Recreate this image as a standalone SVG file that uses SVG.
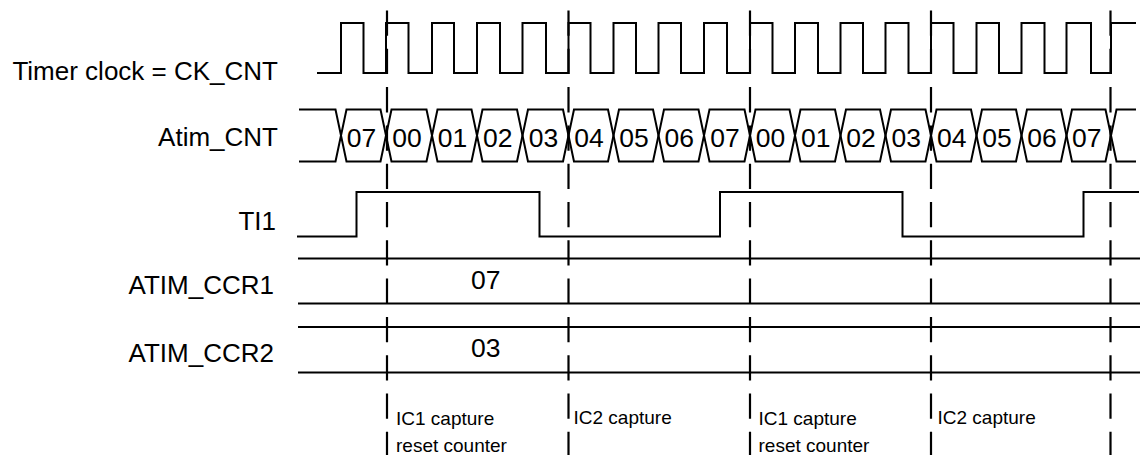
<svg xmlns="http://www.w3.org/2000/svg" width="1142" height="455" viewBox="0 0 1142 455">
<style>
.sig{fill:none;stroke:#000;stroke-width:2;stroke-linejoin:miter}
.dash{fill:none;stroke:#000;stroke-width:2.2;stroke-dasharray:25.3 13}
.lbl{font-family:"Liberation Sans",Arial,sans-serif;font-size:26px;fill:#000;text-anchor:end}
.val{font-family:"Liberation Sans",Arial,sans-serif;font-size:26.5px;fill:#000;text-anchor:middle}
.note{font-family:"Liberation Sans",Arial,sans-serif;font-size:19px;fill:#000}
</style>
<rect width="1142" height="455" fill="#fff"/>
<g id="labels">
<text class="lbl" x="278" y="80">Timer clock = CK_CNT</text>
<text class="lbl" x="278" y="146">Atim_CNT</text>
<text class="lbl" x="276" y="230">TI1</text>
<text class="lbl" x="274" y="293.5">ATIM_CCR1</text>
<text class="lbl" x="274" y="362">ATIM_CCR2</text>
</g>
<g id="clock">
<path class="sig" d="M317,73 H341 V23 H363.5 V73 H386 V23 H408.5 V73 H432 V23 H454 V73 H477 V23 H500 V73 H522.5 V23 H546 V73 H568.5 V23 H590.5 V73 H613.5 V23 H636 V73 H658.5 V23 H681 V73 H704 V23 H727 V73 H750 V23 H772.5 V73 H795 V23 H818 V73 H840.5 V23 H863 V73 H885.5 V23 H908.5 V73 H931 V23 H953.5 V73 H976.5 V23 H999 V73 H1021.5 V23 H1044.5 V73 H1066.5 V23 H1091 V73 H1111 V23 H1136"/>
</g>
<g id="counter">
<path class="sig" d="M299,109.5 H335.5 L346.5,161.5 H380.5 L391.5,109.5 H426.5 L437.5,161.5 H471.5 L482.5,109.5 H517 L528,161.5 H563 L574,109.5 H608 L619,161.5 H653 L664,109.5 H698.5 L709.5,161.5 H744.5 L755.5,109.5 H789.5 L800.5,161.5 H835 L846,109.5 H880 L891,161.5 H925.5 L936.5,109.5 H971 L982,161.5 H1016 L1027,109.5 H1061 L1072,161.5 H1105.5 L1116.5,109.5 H1136"/>
<path class="sig" d="M299,161.5 H335.5 L346.5,109.5 H380.5 L391.5,161.5 H426.5 L437.5,109.5 H471.5 L482.5,161.5 H517 L528,109.5 H563 L574,161.5 H608 L619,109.5 H653 L664,161.5 H698.5 L709.5,109.5 H744.5 L755.5,161.5 H789.5 L800.5,109.5 H835 L846,161.5 H880 L891,109.5 H925.5 L936.5,161.5 H971 L982,109.5 H1016 L1027,161.5 H1061 L1072,109.5 H1105.5 L1116.5,161.5 H1136"/>
<text class="val" x="361.5" y="146.5">07</text>
<text class="val" x="407" y="146.5">00</text>
<text class="val" x="452.5" y="146.5">01</text>
<text class="val" x="497.7" y="146.5">02</text>
<text class="val" x="543.5" y="146.5">03</text>
<text class="val" x="589" y="146.5">04</text>
<text class="val" x="634" y="146.5">05</text>
<text class="val" x="679.2" y="146.5">06</text>
<text class="val" x="725" y="146.5">07</text>
<text class="val" x="770.5" y="146.5">00</text>
<text class="val" x="815.7" y="146.5">01</text>
<text class="val" x="861" y="146.5">02</text>
<text class="val" x="906.2" y="146.5">03</text>
<text class="val" x="951.7" y="146.5">04</text>
<text class="val" x="997" y="146.5">05</text>
<text class="val" x="1042" y="146.5">06</text>
<text class="val" x="1086.7" y="146.5">07</text>
</g>
<g id="ti1">
<path class="sig" d="M297,236.5 H356.5 V192 H539.5 V236.5 H720 V192 H902.5 V236.5 H1083.5 V192 H1139"/>
</g>
<g id="ccr1">
<path class="sig" d="M298,258.5 H1140 M298,303.5 H1140"/>
<text class="val" x="485.7" y="288.5">07</text>
</g>
<g id="ccr2">
<path class="sig" d="M298,327 H1140 M298,372.5 H1140"/>
<text class="val" x="485.7" y="357">03</text>
</g>
<g id="connectors">
<path class="dash" d="M387,10.5 V455 M568.5,10.5 V455 M750,10.5 V455 M931,10.5 V455 M1110.5,10.5 V455"/>
</g>
<g id="notes">
<text class="note" x="396" y="425">IC1 capture</text>
<text class="note" x="396" y="451.5">reset counter</text>
<text class="note" x="573.5" y="424">IC2 capture</text>
<text class="note" x="758.5" y="425">IC1 capture</text>
<text class="note" x="758.5" y="451.5">reset counter</text>
<text class="note" x="937.5" y="424">IC2 capture</text>
</g>
</svg>
